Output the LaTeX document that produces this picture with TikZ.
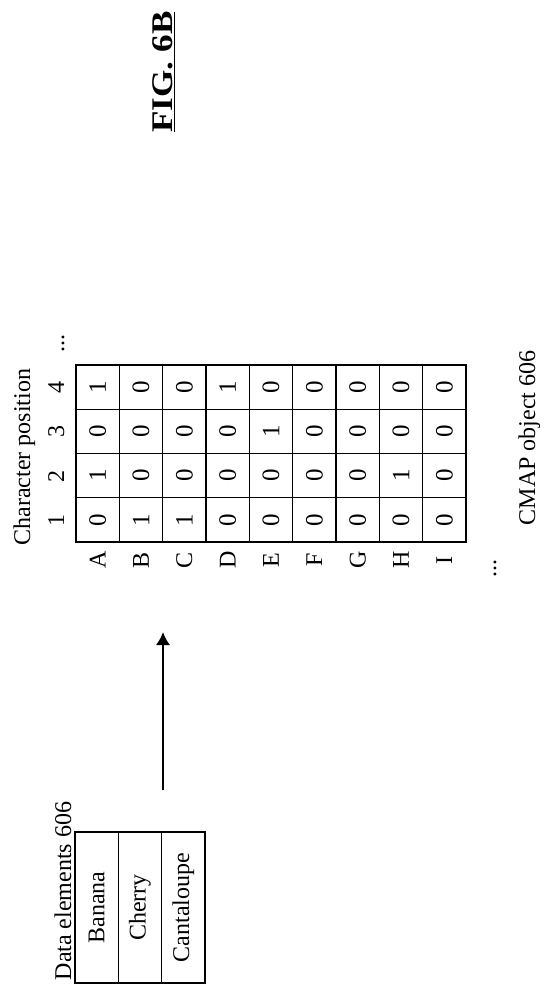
\documentclass[tikz,border=0pt]{standalone}
\usepackage{fontspec}
\setmainfont{Liberation Serif}
\usetikzlibrary{arrows.meta}

\begin{document}
\begin{tikzpicture}[x=1pt,y=-1pt,
    lbl/.style={rotate=90,anchor=base,inner sep=0pt,font=\fontsize{24}{28}\selectfont},
    cell/.style={rotate=90,draw,line width=1.4pt,minimum width=44.25pt,minimum height=43.33pt,inner sep=0pt,font=\fontsize{25}{28}\selectfont},
    elem/.style={rotate=90,draw,line width=1.4pt,minimum width=151pt,minimum height=43.33pt,inner sep=0pt,font=\fontsize{24}{28}\selectfont}]
     \useasboundingbox (0,0) rectangle (555,990);
     % title
     \node[lbl,xscale=1.17,font=\bfseries\fontsize{30}{36}\selectfont] (fig) at (172,72) {\underline{FIG. 6B}};
     % data elements
     \node[lbl] (dtitle) at (71,891) {Data elements 606};
     \node[elem] (banana) at (96.7,907.5) {Banana};
     \node[elem] (cherry) at (140,907.5) {Cherry};
     \node[elem] (canta) at (183.3,907.5) {Cantaloupe};
     \draw[line width=2.2pt] (75,832) rectangle (205,983);
     % arrow
     \coordinate (tail) at (163,790);
     \coordinate (head) at (163,632);
     \draw[line width=1.7pt,-{Latex[length=13pt,width=14pt]}] (tail) -- (head);
     % CMAP object
     \node[lbl] (ctitle) at (30,457) {Character position};
     \node[lbl] (p1) at (64,520) {1};
     \node[lbl] (p2) at (64,476) {2};
     \node[lbl] (p3) at (64,431) {3};
     \node[lbl] (p4) at (64,387) {4};
     \node[lbl] (pdots) at (64,343) {...};
     \foreach \row/\bits [count=\i from 0] in {A/{0,1,0,1},B/{1,0,0,0},C/{1,0,0,0},D/{0,0,0,1},E/{0,0,1,0},F/{0,0,0,0},G/{0,0,0,0},H/{0,1,0,0},I/{0,0,0,0}}{
       \node[lbl,anchor=center] (l\row) at ({97.7+43.33*\i},560) {\row};
       \foreach \bit [count=\col] in \bits
         \node[cell] (\row\col) at ({97.7+43.33*\i},{542-44.25*(\col-0.5)}) {\bit};
     }
     \node[lbl] (ldots) at (496,568) {...};
     \draw[line width=2.2pt] (76,365) rectangle (466,542);
     \node[lbl] (cname) at (535,438) {CMAP object 606};
\end{tikzpicture}
\end{document}
